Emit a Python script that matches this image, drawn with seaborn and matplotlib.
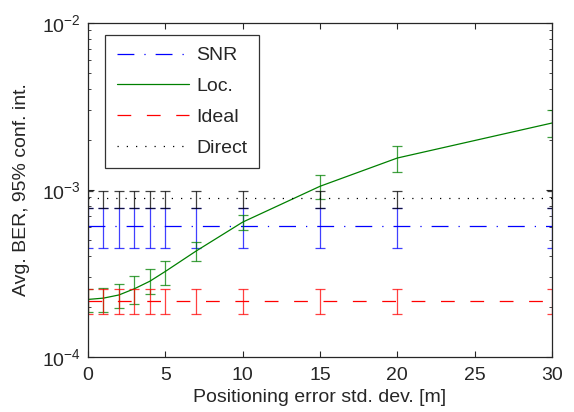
import numpy as np
import pandas as pd
import matplotlib
matplotlib.use("Agg")
import matplotlib.pyplot as plt
import seaborn as sns

# positioning error std. dev. [m]
pos_err = [0, 1, 2, 3, 4, 5, 7, 10, 15, 20, 30]

# SNR based selection (flat)
snr_mean = [6.1e-4] * 11
snr_lo = [4.5e-4] * 11
snr_hi = [7.8e-4] * 11

# location based selection
loc_mean = [2.21e-4, 2.25e-4, 2.35e-4, 2.56e-4, 2.84e-4, 3.25e-4, 4.31e-4, 6.41e-4, 1.05e-3, 1.55e-3, 2.51e-3]
loc_lo = [1.85e-4, 1.87e-4, 1.96e-4, 2.08e-4, 2.38e-4, 2.70e-4, 3.75e-4, 5.75e-4, 8.8e-4, 1.27e-3, 2.06e-3]
loc_hi = [2.55e-4, 2.60e-4, 2.72e-4, 3.05e-4, 3.35e-4, 3.75e-4, 4.85e-4, 7.05e-4, 1.22e-3, 1.83e-3, 3.0e-3]

# ideal selection (flat)
ideal_mean = [2.17e-4] * 11
ideal_lo = [1.81e-4] * 11
ideal_hi = [2.54e-4] * 11

# direct transmission (flat)
direct_mean = [8.9e-4] * 11
direct_lo = [7.8e-4] * 11
direct_hi = [9.9e-4] * 11

sns.set_style("ticks")
plt.rcParams['font.family'] = ['Liberation Sans', 'DejaVu Sans']
plt.rcParams['mathtext.default'] = 'regular'
plt.rcParams['xtick.direction'] = 'in'
plt.rcParams['ytick.direction'] = 'in'

fig = plt.figure(figsize=(5.74, 4.12), dpi=100)
ax = fig.add_axes([0.1533, 0.1335, 0.8084, 0.8115])

series = [
    ("SNR", snr_mean, snr_lo, snr_hi, "#0000ff", (0, (13.5, 8, 1, 8))),
    ("Loc.", loc_mean, loc_lo, loc_hi, "#008000", "-"),
    ("Ideal", ideal_mean, ideal_lo, ideal_hi, "#ff0000", (0, (11, 12.5))),
    ("Direct", direct_mean, direct_lo, direct_hi, "#000000", (0, (1, 6.4))),
]

for name, m, lo, hi, col, ls in series:
    df = pd.DataFrame({"x": pos_err, "y": m})
    sns.lineplot(data=df, x="x", y="y", ax=ax, color=col, linewidth=0.9,
                 linestyle=ls, label=name)
    m_arr = np.array(m)
    yerr = np.vstack([m_arr - np.array(lo), np.array(hi) - m_arr])
    ax.errorbar(pos_err, m, yerr=yerr, fmt="none", ecolor=col, elinewidth=0.9,
                capsize=3.5, capthick=0.9, alpha=0.75, clip_on=True)

ax.set_yscale("log")
ax.set_xlim(0, 30)
ax.set_ylim(1e-4, 1e-2)
ax.set_xticks([0, 5, 10, 15, 20, 25, 30])
ax.tick_params(axis="both", which="both", top=True, right=True, labelsize=14)
ax.tick_params(which="major", length=4)
ax.tick_params(which="minor", length=2.5)
ax.tick_params(axis="x", pad=7)
ax.tick_params(axis="y", pad=5)
for s in ax.spines.values():
    s.set_linewidth(0.9)

ax.set_xlabel("Positioning error std. dev. [m]", fontsize=14)
ax.set_ylabel("Avg. BER, 95% conf. int.", fontsize=14)
ax.yaxis.set_label_coords(-0.125, 0.5)

leg = ax.legend(loc="upper left", bbox_to_anchor=(0.0366, 0.963), fontsize=14,
                handlelength=3.7, frameon=True, fancybox=False, borderpad=0.6,
                labelspacing=0.68, handletextpad=0.4, borderaxespad=0)
leg.get_frame().set_edgecolor("black")
leg.get_frame().set_linewidth(0.9)

fig.savefig("out.png", dpi=100)
